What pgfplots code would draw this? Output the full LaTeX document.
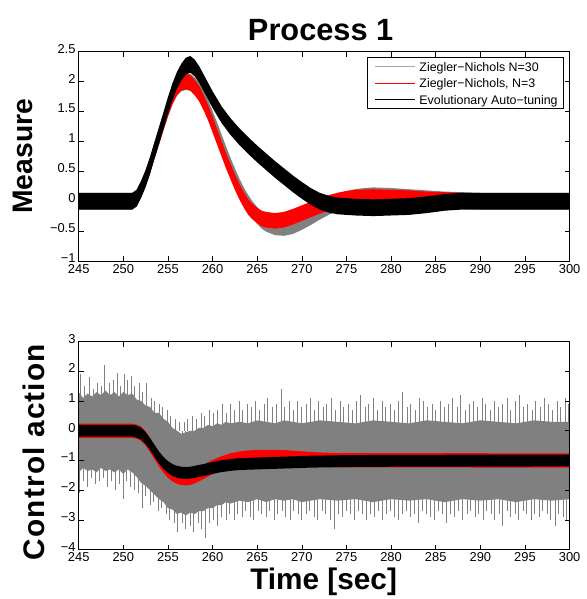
\documentclass[border=0pt]{standalone}
\usepackage{fontspec}
\setmainfont{Liberation Sans}
\usepackage{pgfplots}
\usepackage{pgfplotstable}
\pgfplotsset{compat=1.18}
\usepgfplotslibrary{fillbetween}

\definecolor{zngray}{RGB}{128,128,128}
\definecolor{znlight}{RGB}{170,170,170}
\definecolor{znred}{RGB}{255,0,0}

% ---------- Measure: noise bands (t, upper, lower) ----------
\pgfplotstableread{
t     hi     lo
245   0.14  -0.14
251   0.14  -0.14
251.5 0.19  -0.09
252   0.34   0.06
252.5 0.52   0.24
253   0.74   0.46
253.5 0.99   0.71
254   1.22   0.94
254.5 1.46   1.18
255   1.69   1.41
255.5 1.89   1.61
256   2.04   1.76
256.5 2.12   1.84
257   2.14   1.86
257.5 2.13   1.85
258   2.07   1.79
258.5 1.98   1.70
259   1.85   1.57
259.5 1.69   1.41
260   1.51   1.23
260.5 1.32   1.04
261   1.12   0.84
261.5 0.92   0.64
262   0.73   0.45
262.5 0.55   0.27
263   0.38   0.10
263.5 0.23  -0.05
264   0.10  -0.18
264.5 -0.01 -0.29
265   -0.10 -0.38
265.5 -0.18 -0.46
266   -0.23 -0.51
267   -0.29 -0.57
268   -0.30 -0.58
269   -0.27 -0.55
270   -0.20 -0.48
271   -0.12 -0.40
272   -0.03 -0.31
273   0.05  -0.23
274   0.12  -0.16
275   0.17  -0.11
276   0.20  -0.08
277   0.22  -0.06
278   0.23  -0.05
280   0.22  -0.06
282   0.20  -0.08
284   0.18  -0.10
286   0.16  -0.12
288   0.15  -0.13
290   0.14  -0.14
300   0.14  -0.14
}\mgray

\pgfplotstableread{
t     hi     lo
245   0.13  -0.13
251   0.13  -0.13
251.5 0.18  -0.08
252   0.33   0.07
252.5 0.51   0.25
253   0.73   0.47
253.5 0.98   0.72
254   1.21   0.95
254.5 1.45   1.19
255   1.68   1.42
255.5 1.88   1.62
256   2.03   1.77
256.5 2.11   1.85
257   2.13   1.87
257.5 2.11   1.85
258   2.03   1.77
258.5 1.93   1.67
259   1.78   1.52
259.5 1.61   1.35
260   1.41   1.15
260.5 1.21   0.95
261   1.01   0.75
261.5 0.81   0.55
262   0.63   0.37
262.5 0.45   0.19
263   0.29   0.03
263.5 0.15  -0.11
264   0.03  -0.23
264.5 -0.05 -0.31
265   -0.11 -0.37
265.5 -0.16 -0.42
266   -0.18 -0.44
267   -0.20 -0.46
268   -0.18 -0.44
269   -0.13 -0.39
270   -0.07 -0.33
271   -0.01 -0.27
272   0.05  -0.21
273   0.10  -0.16
274   0.14  -0.12
275   0.17  -0.09
276   0.19  -0.07
278   0.20  -0.06
280   0.19  -0.07
282   0.18  -0.08
284   0.16  -0.10
286   0.15  -0.11
288   0.14  -0.12
290   0.13  -0.13
300   0.13  -0.13
}\mred

\pgfplotstableread{
t     hi     lo
245   0.14  -0.14
251   0.14  -0.14
251.5 0.19  -0.09
252   0.34   0.06
252.5 0.52   0.24
253   0.74   0.46
253.5 0.99   0.71
254   1.24   0.96
254.5 1.49   1.21
255   1.74   1.46
255.5 1.97   1.69
256   2.16   1.88
256.5 2.30   2.02
257   2.40   2.12
257.5 2.43   2.15
258   2.37   2.09
258.5 2.26   1.98
259   2.12   1.84
260   1.84   1.56
261   1.59   1.31
262   1.39   1.11
263   1.22   0.94
264   1.07   0.79
265   0.93   0.65
266   0.80   0.52
267   0.67   0.39
268   0.55   0.27
269   0.43   0.15
270   0.32   0.04
271   0.22  -0.06
272   0.14  -0.14
273   0.09  -0.19
274   0.06  -0.22
276   0.04  -0.24
278   0.03  -0.25
280   0.04  -0.24
282   0.05  -0.23
284   0.08  -0.20
286   0.12  -0.16
288   0.14  -0.14
300   0.14  -0.14
}\mblack

% ---------- Control action ----------
% solid part of the N=30 noise band
\pgfplotstableread{
t     hi    lo
245   1.3  -1.4
245.5 1.1  -1.25
246   1.25 -1.35
246.5 1.15 -1.3
247   1.3  -1.4
247.5 1.2  -1.25
248   1.35 -1.35
248.5 1.2  -1.3
249   1.3  -1.4
249.5 1.15 -1.3
250   1.3  -1.45
250.5 1.2  -1.3
251   1.25 -1.4
251.5 1.05 -1.55
252   1.0  -1.75
252.5 0.85 -1.85
253   0.8  -2.0
253.5 0.6  -2.15
254   0.6  -2.3
254.5 0.4  -2.4
255   0.3  -2.6
255.5 0.1  -2.65
256   0.0  -2.8
256.5 -0.1 -2.75
257   -0.05 -2.85
257.5 0.0  -2.75
258   0.0  -2.8
258.5 0.1  -2.7
259   0.1  -2.7
259.5 0.2  -2.6
260   0.15 -2.6
260.5 0.25 -2.5
261   0.2  -2.5
261.5 0.3  -2.4
262   0.25 -2.45
263   0.3  -2.35
264   0.25 -2.4
265   0.35 -2.3
266   0.3  -2.4
267   0.25 -2.3
268   0.35 -2.35
269   0.3  -2.3
270   0.25 -2.4
272   0.35 -2.3
274   0.3  -2.35
276   0.25 -2.3
278   0.35 -2.4
280   0.3  -2.3
282   0.25 -2.35
284   0.35 -2.3
286   0.3  -2.4
288   0.25 -2.3
290   0.35 -2.35
292   0.3  -2.3
294   0.25 -2.4
296   0.35 -2.3
298   0.3  -2.35
300   0.3  -2.3
}\cgray

% needles of the N=30 noise sticking out of the band
\pgfplotstableread{
t     y
245.2 1.9
245.7 1.5
246.2 1.8
246.6 1.4
247.1 1.6
247.6 1.5
247.9 2.2
248.4 1.6
248.9 1.7
249.3 1.95
249.7 1.5
250.1 1.9
250.5 1.7
250.9 1.85
251.3 1.5
251.8 1.6
252.2 1.3
252.6 1.6
253.1 1.1
253.5 1.0
254   0.9
254.4 0.8
254.9 0.7
255.3 0.5
255.8 0.4
256.3 0.3
256.8 0.3
257.2 0.4
257.7 0.5
258.2 0.4
258.7 0.6
259.1 0.5
259.6 0.7
260.1 0.6
260.6 0.7
261.1 0.9
261.5 0.6
262   0.9
262.5 0.7
263   1.0
263.4 0.7
263.9 0.9
264.4 0.8
264.8 1.0
265.3 0.7
265.8 0.9
266.2 1.1
266.7 0.8
267.2 0.9
267.7 1.4
268.1 0.8
268.6 1.0
269.1 0.7
269.5 1.0
270   0.8
270.5 0.9
271   1.1
271.4 0.7
271.9 1.0
272.4 0.8
272.8 0.9
273.3 1.1
273.8 0.7
274.3 1.0
274.7 0.8
275.2 0.9
275.7 0.7
276.1 1.0
276.6 1.2
277.1 0.8
277.5 0.9
278   1.1
278.5 0.7
279   1.0
279.4 0.8
279.9 0.9
280.4 0.7
280.8 1.0
281.3 1.3
281.8 0.8
282.2 0.9
282.7 0.7
283.2 1.1
283.6 1.0
284.1 0.8
284.6 0.9
285   0.7
285.5 1.0
286   0.8
286.4 0.9
286.9 1.1
287.4 0.8
287.8 1.2
288.3 0.7
288.8 0.9
289.2 1.0
289.7 0.8
290.2 1.1
290.6 0.9
291.1 0.7
291.6 1.0
292   0.8
292.5 0.9
293   1.1
293.4 0.7
293.9 1.0
294.4 1.2
294.8 0.8
295.3 0.9
295.8 0.7
296.2 1.0
296.7 0.8
297.2 1.1
297.6 0.9
298.1 0.7
298.6 1.0
299   0.8
299.5 1.1
299.9 0.9
245.1 -2.1
245.5 -1.7
246   -1.9
246.4 -1.6
246.9 -1.8
247.3 -1.7
247.8 -1.6
248.2 -1.9
248.7 -1.7
249.1 -2.0
249.6 -1.8
250   -2.3
250.4 -1.7
250.8 -1.9
251.2 -2.0
251.7 -2.1
252.1 -2.6
252.5 -2.2
253   -2.5
253.4 -2.4
253.9 -2.7
254.3 -2.6
254.8 -2.8
255.2 -3.0
255.7 -3.1
256.1 -3.4
256.6 -3.1
257   -3.3
257.5 -3.2
257.9 -3.4
258.4 -3.1
258.8 -3.3
259.2 -3.6
259.7 -3.1
260.1 -3.0
260.6 -3.2
261   -2.9
261.5 -3.0
261.9 -2.8
262.4 -3.0
262.8 -2.8
263.3 -2.9
263.7 -2.7
264.2 -2.9
264.6 -3.0
265.1 -2.7
265.5 -2.8
266   -2.9
266.4 -2.7
266.9 -3.0
267.3 -2.8
267.8 -2.7
268.2 -2.9
268.7 -3.0
269.1 -2.7
269.6 -2.8
270   -3.0
270.5 -2.8
270.9 -2.7
271.4 -2.9
271.8 -3.0
272.3 -2.7
272.7 -2.8
273.2 -3.0
273.6 -3.3
274.1 -2.8
274.5 -2.9
275   -2.7
275.4 -2.8
275.9 -3.0
276.3 -2.7
276.8 -2.8
277.2 -3.0
277.7 -2.8
278.1 -2.9
278.6 -2.7
279   -3.0
279.5 -2.8
279.9 -2.7
280.4 -2.9
280.8 -3.0
281.3 -2.8
281.7 -2.7
282.2 -2.9
282.6 -2.8
283.1 -3.1
283.5 -2.7
284   -2.8
284.4 -2.9
284.9 -3.0
285.3 -2.7
285.8 -2.8
286.2 -3.1
286.7 -2.8
287.1 -2.9
287.6 -2.7
288   -3.0
288.5 -2.8
288.9 -2.7
289.4 -2.9
289.8 -2.8
290.3 -3.0
290.7 -2.7
291.2 -2.8
291.6 -3.0
292.1 -2.8
292.5 -3.2
293   -2.7
293.4 -2.9
293.9 -2.8
294.3 -3.0
294.8 -2.7
295.2 -2.8
295.7 -3.0
296.1 -2.8
296.6 -2.9
297   -2.7
297.5 -2.8
297.9 -3.0
298.4 -3.2
298.8 -2.8
299.3 -2.9
299.7 -3.0
}\cspikes

\pgfplotstableread{
t     hi     lo
245   0.24  -0.24
251   0.24  -0.24
251.5 0.21  -0.27
252   0.14  -0.34
252.5 -0.02 -0.50
253   -0.24 -0.72
253.5 -0.48 -0.96
254   -0.72 -1.20
254.5 -0.93 -1.41
255   -1.10 -1.58
255.5 -1.22 -1.70
256   -1.30 -1.78
256.5 -1.34 -1.82
257   -1.36 -1.84
257.5 -1.34 -1.82
258   -1.29 -1.77
258.5 -1.22 -1.70
259   -1.14 -1.62
259.5 -1.06 -1.54
260   -0.98 -1.46
261   -0.86 -1.34
262   -0.76 -1.24
263   -0.70 -1.18
264   -0.66 -1.14
266   -0.64 -1.12
268   -0.65 -1.13
270   -0.69 -1.17
272   -0.73 -1.21
274   -0.75 -1.23
300   -0.76 -1.24
}\cred

\pgfplotstableread{
t     hi     lo
245   0.20  -0.20
251   0.20  -0.20
251.5 0.17  -0.23
252   0.10  -0.30
252.5 -0.05 -0.45
253   -0.25 -0.65
253.5 -0.48 -0.88
254   -0.70 -1.10
254.5 -0.88 -1.28
255   -1.02 -1.42
255.5 -1.12 -1.52
256   -1.18 -1.58
256.5 -1.21 -1.61
257   -1.22 -1.62
257.5 -1.21 -1.61
258   -1.18 -1.58
259   -1.12 -1.52
260   -1.05 -1.45
261   -0.99 -1.39
262   -0.95 -1.35
263   -0.92 -1.32
265   -0.90 -1.30
268   -0.87 -1.27
271   -0.84 -1.24
275   -0.82 -1.22
280   -0.81 -1.21
300   -0.80 -1.20
}\cblack

\pgfplotsset{
  mlab/.style={
    scale only axis,
    width=493bp,
    xmin=245, xmax=300,
    xtick={245,250,255,260,265,270,275,280,285,290,295,300},
    xticklabels={245,250,255,260,265,270,275,280,285,290,295,300},
    tick label style={font=\fontsize{13}{15}\selectfont},
    xticklabel style={inner sep=3bp},
    yticklabel style={inner xsep=3bp, inner ysep=0bp, yshift=3bp},
    axis line style={line width=0.8bp},
    tick style={line width=0.6bp, black},
    major tick length=5bp,
    axis on top,
  },
}

\begin{document}
\begin{tikzpicture}
\path (0bp,0bp) rectangle (589bp,-599bp);

\begin{axis}[mlab,
  at={(79bp,-52bp)}, anchor=north west,
  height=210bp,
  ymin=-1, ymax=2.5,
  ytick={-1,-0.5,0,0.5,1,1.5,2,2.5},
  yticklabels={−1,−0.5,0,0.5,1,1.5,2,2.5},
]
\addplot[name path=gah, draw=none, forget plot] table[x=t, y=hi] {\mgray};
\addplot[name path=gal, draw=none, forget plot] table[x=t, y=lo] {\mgray};
\addplot[fill=zngray, draw=none, forget plot] fill between[of=gah and gal];
\addplot[name path=rah, draw=none, forget plot] table[x=t, y=hi] {\mred};
\addplot[name path=ral, draw=none, forget plot] table[x=t, y=lo] {\mred};
\addplot[fill=znred, draw=none, forget plot] fill between[of=rah and ral];
\addplot[name path=kah, draw=none, forget plot] table[x=t, y=hi] {\mblack};
\addplot[name path=kal, draw=none, forget plot] table[x=t, y=lo] {\mblack};
\addplot[fill=black, draw=none, forget plot] fill between[of=kah and kal];
\end{axis}

% legend box of the top panel
\draw[line width=0.6bp, fill=white] (369bp,-58bp) rectangle (566bp,-109bp);
\draw[znlight, line width=1.2bp] (377bp,-67bp) -- (417bp,-67bp);
\draw[znred, line width=1.2bp] (377bp,-83.5bp) -- (417bp,-83.5bp);
\draw[black, line width=1.2bp] (377bp,-100bp) -- (417bp,-100bp);
\begin{scope}[every node/.style={anchor=base west, inner sep=0pt, font=\fontsize{12.5}{14}\selectfont}]
\node at (421bp,-71.5bp) {Ziegler−Nichols N=30};
\node at (421bp,-88bp) {Ziegler−Nichols, N=3};
\node at (421bp,-104.5bp) {Evolutionary Auto−tuning};
\end{scope}

\begin{axis}[mlab,
  at={(79bp,-343bp)}, anchor=north west,
  height=209bp,
  ymin=-4, ymax=3,
  ytick={-4,-3,-2,-1,0,1,2,3},
  yticklabels={−4,−3,−2,−1,0,1,2,3},
]
\addplot[name path=gbh, draw=none, forget plot] table[x=t, y=hi] {\cgray};
\addplot[name path=gbl, draw=none, forget plot] table[x=t, y=lo] {\cgray};
\addplot[fill=zngray, draw=none, forget plot] fill between[of=gbh and gbl];
\addplot[ycomb, no marks, color=zngray, line width=0.9bp, forget plot, on layer=pre main] table[x=t, y=y] {\cspikes};
\addplot[name path=rbh, draw=none, forget plot] table[x=t, y=hi] {\cred};
\addplot[name path=rbl, draw=none, forget plot] table[x=t, y=lo] {\cred};
\addplot[fill=znred, draw=none, forget plot] fill between[of=rbh and rbl];
\addplot[name path=kbh, draw=none, forget plot] table[x=t, y=hi] {\cblack};
\addplot[name path=kbl, draw=none, forget plot] table[x=t, y=lo] {\cblack};
\addplot[fill=black, draw=none, forget plot] fill between[of=kbh and kbl];
\end{axis}

\node[anchor=base, font=\fontsize{31}{36}\selectfont\bfseries] at (322bp,-41bp) {Process 1};
\node[anchor=base, rotate=90, font=\fontsize{28.5}{32}\selectfont\bfseries] at (33bp,-157bp) {Measure};
\node[anchor=base, rotate=90, font=\fontsize{30}{34}\selectfont\bfseries\addfontfeature{LetterSpace=4}] at (45bp,-454bp) {Control action};
\node[anchor=base, font=\fontsize{30}{34}\selectfont\bfseries] at (325bp,-592bp) {Time [sec]};
\end{tikzpicture}
\end{document}
